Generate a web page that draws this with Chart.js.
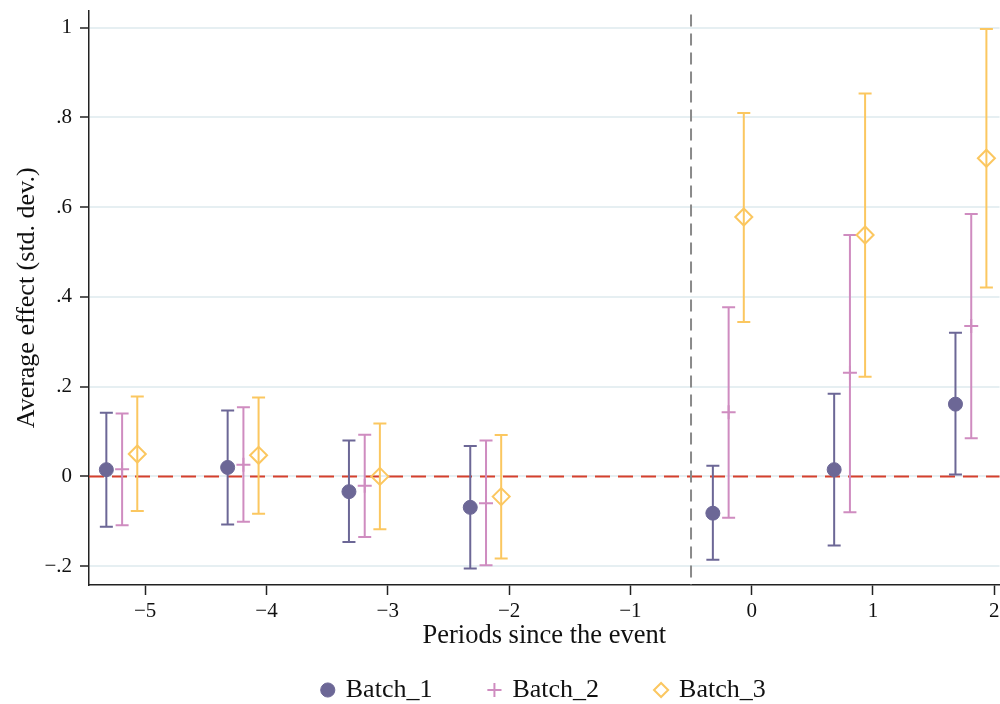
<!DOCTYPE html>
<html>
<head>
<meta charset="utf-8">
<script src="https://cdn.jsdelivr.net/npm/chart.js@4"></script>
<style>
  html, body { margin: 0; background: #fff; overflow: hidden; }
  #wrap { width: 1010px; height: 723px; margin-top: -10px; }
</style>
</head>
<body>
<div id="wrap"><canvas id="myChart"></canvas></div>
<script>
// periods since the event (no estimate at -1)
const periods = [-5, -4, -3, -2, 0, 1, 2];

const batch1Est = [0.015, 0.020, -0.034, -0.069, -0.082, 0.015, 0.161];
const batch1Lo  = [-0.112, -0.107, -0.146, -0.205, -0.186, -0.154, 0.004];
const batch1Hi  = [0.142, 0.147, 0.080, 0.068, 0.024, 0.184, 0.320];

const batch2Est = [0.016, 0.026, -0.021, -0.060, 0.143, 0.231, 0.335];
const batch2Lo  = [-0.109, -0.101, -0.135, -0.198, -0.092, -0.080, 0.085];
const batch2Hi  = [0.140, 0.154, 0.093, 0.080, 0.377, 0.538, 0.585];

const batch3Est = [0.050, 0.047, 0.000, -0.045, 0.578, 0.538, 0.709];
const batch3Lo  = [-0.077, -0.083, -0.118, -0.183, 0.344, 0.222, 0.421];
const batch3Hi  = [0.178, 0.176, 0.118, 0.092, 0.810, 0.853, 0.997];

const xTicks = [-5, -4, -3, -2, -1, 0, 1, 2];
const yTicks = [-0.2, 0, 0.2, 0.4, 0.6, 0.8, 1];

const eventLine = -0.5;
const zeroLine = 0;

const SERIF = '"Liberation Serif", "DejaVu Serif", serif';

function points(est, lo, hi, shift) {
  return periods.map((p, i) => ({ x: p + shift, y: est[i], yMin: lo[i], yMax: hi[i] }));
}

// stata style numbers: .8, −.2, −5
function fmt(v) {
  let s = String(Math.abs(Math.round(v * 10) / 10));
  if (s.startsWith('0.')) s = s.slice(1);
  return (v < 0 ? '\u2212' : '') + s;
}

const errorBars = {
  id: 'errorBars',
  beforeDatasetsDraw(chart) {
    const { ctx, chartArea, scales: { x, y } } = chart;
    ctx.save();

    // zero line
    const y0 = y.getPixelForValue(zeroLine);
    ctx.strokeStyle = '#d5402d';
    ctx.lineWidth = 2;
    ctx.setLineDash([15, 8]);
    ctx.beginPath();
    ctx.moveTo(chartArea.left, y0);
    ctx.lineTo(chartArea.right, y0);
    ctx.stroke();

    // event line
    const xe = x.getPixelForValue(eventLine);
    ctx.strokeStyle = '#8a8a8a';
    ctx.setLineDash([12, 7]);
    ctx.beginPath();
    ctx.moveTo(xe, chartArea.top + 4);
    ctx.lineTo(xe, chartArea.bottom);
    ctx.stroke();
    ctx.setLineDash([]);

    chart.data.datasets.forEach(ds => {
      ctx.strokeStyle = ds.borderColor;
      ctx.lineWidth = 2;
      ds.data.forEach(p => {
        const px = x.getPixelForValue(p.x);
        const top = y.getPixelForValue(p.yMax);
        const bot = y.getPixelForValue(p.yMin);
        ctx.beginPath();
        ctx.moveTo(px, top); ctx.lineTo(px, bot);
        ctx.moveTo(px - 6.5, top); ctx.lineTo(px + 6.5, top);
        ctx.moveTo(px - 6.5, bot); ctx.lineTo(px + 6.5, bot);
        ctx.stroke();
      });
    });
    ctx.restore();
  }
};

const data = {
  datasets: [
    {
      label: 'Batch_1',
      data: points(batch1Est, batch1Lo, batch1Hi, -0.32),
      pointStyle: 'circle',
      pointRadius: 7,
      backgroundColor: '#6c6796',
      borderColor: '#6c6796',
      borderWidth: 1
    },
    {
      label: 'Batch_2',
      data: points(batch2Est, batch2Lo, batch2Hi, -0.19),
      pointStyle: 'cross',
      pointRadius: 7,
      backgroundColor: '#cf8cc0',
      borderColor: '#cf8cc0',
      borderWidth: 2
    },
    {
      label: 'Batch_3',
      data: points(batch3Est, batch3Lo, batch3Hi, -0.065),
      pointStyle: 'rectRot',
      pointRadius: 8.5,
      backgroundColor: 'rgba(255,255,255,0)',
      borderColor: '#fbc760',
      borderWidth: 2
    }
  ]
};

const config = {
  type: 'scatter',
  data: data,
  plugins: [errorBars],
  options: {
    responsive: true,
    maintainAspectRatio: false,
    animation: false,
    layout: { padding: { top: 2, left: 0 } },
    plugins: {
      legend: {
        position: 'bottom',
        fullSize: false,
        labels: {
          usePointStyle: true,
          boxHeight: 10,
          boxWidth: 10,
          padding: 57,
          color: '#111',
          font: { family: SERIF, size: 26 }
        }
      },
      tooltip: { enabled: false }
    },
    scales: {
      x: {
        type: 'linear',
        min: -5.463,
        max: 2.043,
        afterBuildTicks: s => { s.ticks = xTicks.map(v => ({ value: v })); },
        ticks: {
          callback: v => fmt(v),
          color: '#111',
          padding: 5.5,
          maxRotation: 0,
          font: { family: SERIF, size: 21, lineHeight: 1 }
        },
        grid: { drawOnChartArea: false, tickColor: '#222', tickLength: 10, tickWidth: 1.5 },
        border: { color: '#222', width: 1.5 },
        title: {
          display: true,
          text: 'Periods since the event',
          color: '#111',
          padding: { top: 0, bottom: -25 },
          font: { family: SERIF, size: 26.5, lineHeight: '18px' }
        }
      },
      y: {
        min: -0.242,
        max: 1.038,
        afterBuildTicks: s => { s.ticks = yTicks.map(v => ({ value: v })); },
        afterFit: s => { s.width = 89; },
        ticks: {
          callback: v => fmt(v),
          color: '#111',
          padding: 8,
          font: { family: SERIF, size: 21 }
        },
        grid: { color: '#e6eff2', lineWidth: 2, tickColor: '#222', tickLength: 9, tickWidth: 1.5 },
        border: { color: '#222', width: 1.5 },
        title: {
          display: true,
          text: 'Average effect (std. dev.)',
          color: '#111',
          padding: { top: 12, bottom: 0 },
          font: { family: SERIF, size: 26 }
        }
      }
    }
  }
};

new Chart(document.getElementById('myChart'), config);
</script>
</body>
</html>
